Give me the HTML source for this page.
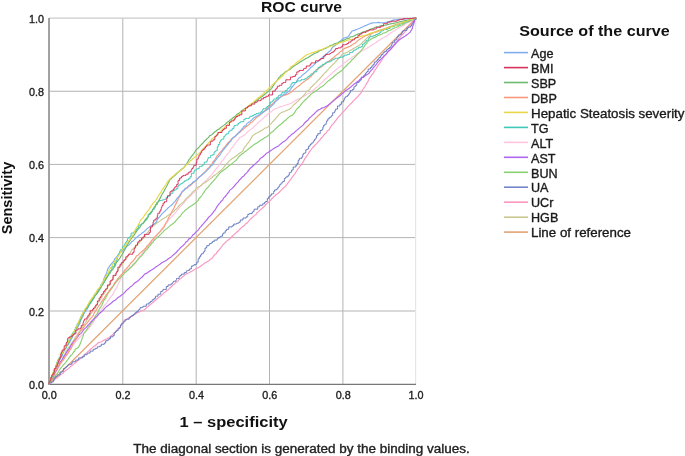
<!DOCTYPE html>
<html><head><meta charset="utf-8"><style>
html,body{margin:0;padding:0;background:#fff;}
svg{display:block;will-change:transform;font-family:"Liberation Sans",sans-serif;}
text{stroke-linejoin:round;}
.t{stroke:currentColor;stroke-width:0.35px;}
</style></head><body>
<svg width="685" height="456" viewBox="0 0 685 456">
<rect width="685" height="456" fill="#fff"/>
<line x1="122.80" y1="18.10" x2="122.80" y2="384.30" stroke="#b3b3b3" stroke-width="1.0"/>
<line x1="49.00" y1="311.00" x2="415.90" y2="311.00" stroke="#b3b3b3" stroke-width="1.0"/>
<line x1="196.20" y1="18.10" x2="196.20" y2="384.30" stroke="#b3b3b3" stroke-width="1.0"/>
<line x1="49.00" y1="237.60" x2="415.90" y2="237.60" stroke="#b3b3b3" stroke-width="1.0"/>
<line x1="269.50" y1="18.10" x2="269.50" y2="384.30" stroke="#b3b3b3" stroke-width="1.0"/>
<line x1="49.00" y1="164.40" x2="415.90" y2="164.40" stroke="#b3b3b3" stroke-width="1.0"/>
<line x1="342.90" y1="18.10" x2="342.90" y2="384.30" stroke="#b3b3b3" stroke-width="1.0"/>
<line x1="49.00" y1="91.25" x2="415.90" y2="91.25" stroke="#b3b3b3" stroke-width="1.0"/>
<line x1="49.00" y1="18.10" x2="415.60" y2="18.10" stroke="#cbcbcb" stroke-width="1.2"/>
<line x1="415.60" y1="18.10" x2="415.60" y2="384.30" stroke="#e6e6e6" stroke-width="1.2"/>
<line x1="48" y1="384.3" x2="416" y2="384.3" stroke="#777" stroke-width="1.3"/>
<line x1="49" y1="18.1" x2="49" y2="385" stroke="#9e9e9e" stroke-width="1.9"/>
<line x1="49.0" y1="384.3" x2="416.2" y2="18.0" stroke="#e2a474" stroke-width="1.25"/>
<polyline fill="none" stroke="#ffc4de" stroke-width="1.15" stroke-linejoin="round" points="49.0,384.3 50.3,382.2 51.1,380.7 51.9,379.1 52.7,377.3 53.8,376.2 55.0,373.8 55.9,372.0 56.8,370.4 58.0,368.6 59.1,366.9 59.9,365.5 61.0,363.4 61.9,361.8 63.2,360.0 63.9,358.4 64.9,356.6 66.4,355.1 67.4,353.5 68.0,351.9 69.5,349.8 70.8,348.5 71.8,346.6 73.0,345.1 74.4,343.6 75.4,342.1 76.8,340.3 78.3,339.1 79.6,337.5 81.1,335.8 82.6,334.9 83.6,333.4 85.1,332.1 86.4,330.4 88.2,329.4 89.2,327.7 90.7,326.0 92.0,324.2 92.9,322.6 94.1,321.1 94.9,319.1 96.4,317.8 97.3,316.2 98.3,314.3 99.2,312.6 100.7,310.8 101.5,309.4 102.9,307.9 103.8,305.9 105.2,304.8 106.6,303.0 107.6,301.5 108.8,299.9 109.8,298.1 111.0,296.5 112.2,295.2 113.5,293.4 114.0,291.4 115.4,289.9 116.2,288.3 117.6,286.1 118.0,284.4 118.9,282.7 120.0,280.7 120.5,278.9 121.4,277.2 122.4,275.2 123.3,273.6 124.6,272.1 125.5,270.3 127.2,269.2 128.8,268.4 131.1,267.4 132.4,266.3 133.7,265.3 135.2,263.6 136.2,261.9 137.3,260.0 138.3,258.6 139.4,256.9 140.6,255.3 142.1,253.7 143.2,252.3 144.6,250.9 145.4,249.2 146.9,247.6 148.3,246.1 149.6,244.4 151.0,242.8 151.9,241.4 153.1,240.1 154.6,238.5 155.7,236.6 157.0,235.2 158.1,233.6 159.5,232.2 160.6,230.6 161.8,228.6 163.0,227.0 164.4,225.7 165.6,224.1 167.0,222.4 168.0,220.8 169.1,219.5 170.4,218.0 172.0,216.6 173.4,214.8 174.8,213.4 176.0,212.0 177.3,210.4 178.5,208.9 179.6,207.4 181.1,206.0 182.8,204.0 183.9,202.8 185.0,201.4 186.5,199.6 187.9,198.4 189.4,196.8 190.9,195.7 192.0,194.1 193.6,192.7 195.3,191.4 196.3,189.8 197.8,188.9 199.2,187.2 200.8,185.7 202.5,184.2 203.6,182.9 205.0,181.3 206.6,180.1 207.8,178.5 209.1,177.3 210.7,175.9 212.0,174.3 213.0,172.8 214.4,171.1 215.6,169.7 216.8,167.9 218.1,166.7 219.2,164.8 220.4,163.4 221.4,161.7 223.1,159.9 224.3,158.6 225.2,156.9 226.3,155.2 228.0,153.5 229.2,152.1 230.3,150.5 231.0,148.8 232.6,147.1 233.5,145.7 234.8,143.8 236.0,142.6 237.3,141.0 238.8,139.3 239.6,137.5 241.4,136.7 243.2,135.7 244.8,134.7 246.3,133.3 247.7,131.7 249.3,130.5 250.7,129.4 252.3,128.5 254.0,126.6 255.4,125.4 256.7,124.2 258.2,122.2 259.9,121.2 261.5,119.9 262.6,118.9 264.1,117.4 266.0,116.0 267.2,114.7 268.9,113.2 270.4,112.2 272.3,110.9 273.4,109.9 275.2,108.8 277.1,108.2 278.9,107.4 280.5,106.6 283.1,106.0 284.6,105.3 286.7,104.9 288.3,104.3 290.4,103.6 292.0,102.8 293.9,101.5 295.5,100.6 297.5,99.6 299.3,98.8 301.1,97.9 302.6,96.5 304.4,95.9 306.2,94.9 307.8,93.8 309.5,93.2 311.3,91.7 312.6,90.4 314.5,89.2 315.7,88.0 317.5,86.6 318.9,85.3 320.3,83.9 321.6,82.7 323.2,81.4 324.3,79.8 326.3,78.3 327.7,77.1 329.2,75.6 330.5,74.5 332.2,73.0 333.6,71.7 335.3,70.3 336.5,69.2 338.1,67.9 339.9,66.8 341.3,65.6 342.7,64.4 344.3,62.8 346.2,61.7 347.6,60.5 349.4,59.3 350.9,58.3 352.4,56.9 354.1,56.0 355.9,54.9 357.4,53.5 359.2,52.3 360.9,51.4 362.4,50.4 364.3,49.8 366.5,48.6 367.9,47.4 369.6,46.7 371.1,45.7 372.7,44.5 374.7,43.2 376.4,42.5 377.8,41.0 379.8,40.1 381.1,39.0 383.0,37.9 384.8,36.9 386.6,36.0 388.1,34.8 389.9,33.7 391.2,32.6 393.1,31.7 394.8,30.4 396.5,29.5 398.2,28.2 400.0,27.2 401.7,26.3 403.4,25.6 405.1,24.3 406.8,23.4 408.4,22.2 410.3,21.4 412.1,20.3 413.7,19.4 415.8,18.4 416.2,18.0"/>
<polyline fill="none" stroke="#cac890" stroke-width="1.15" stroke-linejoin="round" points="49.0,384.3 50.0,382.6 50.7,380.7 51.8,379.0 52.7,377.0 53.8,375.7 54.6,373.8 55.6,372.0 56.2,370.4 57.3,368.6 58.3,366.5 59.2,365.0 60.1,363.0 61.1,361.0 62.3,359.6 63.0,358.0 63.8,356.0 65.1,354.4 65.4,351.9 66.6,350.9 67.6,348.9 68.9,347.2 70.0,345.8 71.1,344.0 72.1,342.4 73.2,340.9 74.8,338.9 75.2,337.2 76.7,335.8 77.9,333.9 78.7,332.5 79.8,330.8 81.0,329.1 82.3,327.5 83.4,325.5 84.4,324.0 85.6,322.5 86.5,320.6 87.6,318.9 88.9,317.2 90.0,315.7 90.9,313.7 92.0,312.4 92.8,310.8 94.4,308.9 95.3,307.6 96.5,305.4 97.4,303.8 98.5,301.8 99.7,300.4 100.7,298.8 101.9,297.1 102.7,295.5 104.1,293.7 105.1,292.1 105.9,290.6 106.9,288.8 107.9,287.0 108.8,285.0 110.2,283.5 111.1,281.7 112.2,279.8 113.0,278.3 114.0,276.5 115.2,274.9 116.2,273.4 117.4,271.6 118.3,269.7 119.1,268.0 120.1,266.2 121.7,265.0 122.9,262.9 123.9,261.3 125.2,259.8 126.3,258.6 127.5,256.9 128.5,254.9 129.9,253.6 130.7,251.7 131.7,250.0 133.5,248.5 134.6,246.9 136.2,245.9 137.7,244.4 138.8,243.2 140.4,241.5 141.9,239.7 143.2,238.6 144.5,237.3 145.7,235.2 146.7,233.9 148.0,232.0 148.9,230.7 150.4,229.0 151.2,227.7 152.4,225.9 154.8,224.8 156.2,223.5 158.0,222.3 159.5,221.4 160.9,220.4 162.5,219.0 164.4,217.9 166.1,217.0 167.6,215.6 169.2,214.5 171.1,213.4 172.7,212.3 174.0,211.2 175.4,209.7 177.2,208.1 178.4,206.5 179.7,205.1 181.1,203.9 182.6,202.8 184.1,201.2 185.4,199.6 186.7,198.0 188.2,197.1 189.7,195.3 191.3,193.9 192.3,192.4 193.7,191.1 195.6,189.7 196.5,188.3 198.3,186.9 200.0,186.2 201.7,185.0 203.0,183.5 205.1,182.8 206.3,181.5 208.1,180.4 209.8,179.1 211.4,178.0 213.0,176.5 214.2,175.5 215.9,174.4 217.8,173.1 219.2,171.8 220.9,170.3 222.2,169.1 223.5,167.7 224.7,166.2 226.0,164.4 227.3,163.1 228.7,161.6 230.0,160.3 231.9,158.8 233.5,157.7 235.3,156.6 236.4,155.7 238.3,154.2 239.9,153.0 241.6,152.0 243.0,150.7 243.7,148.6 245.0,146.9 246.1,145.6 247.2,143.8 248.5,142.5 249.8,140.6 250.8,138.8 251.8,137.1 253.0,135.4 254.3,134.5 256.3,133.3 257.9,132.5 259.7,131.4 261.4,130.5 263.4,129.6 264.7,128.2 266.6,127.7 268.4,126.7 269.7,124.9 271.2,123.6 272.5,121.9 273.8,120.5 275.2,119.1 276.3,117.6 277.9,116.2 278.9,114.5 280.2,113.4 281.9,112.2 284.1,111.7 285.8,110.8 287.8,110.0 289.5,109.3 291.1,108.0 292.3,106.5 293.7,104.8 295.4,103.5 296.9,102.1 298.5,100.8 299.5,99.5 301.2,97.9 302.5,96.9 304.0,95.1 305.1,93.8 306.3,91.7 307.9,90.6 309.6,89.4 310.6,87.7 312.2,86.3 313.4,85.0 314.9,83.6 316.3,82.3 317.9,80.4 319.4,79.2 320.6,77.6 321.8,76.3 323.1,75.0 324.6,73.2 325.9,72.0 327.4,70.4 328.6,69.0 329.8,67.3 331.6,66.0 332.7,64.5 334.3,63.5 335.4,61.8 336.7,60.5 338.4,58.7 339.8,57.4 341.0,55.9 342.2,54.3 344.0,53.3 345.7,53.1 347.6,51.9 349.3,51.1 351.2,50.0 353.0,48.7 354.5,47.9 356.3,47.0 357.7,46.4 359.6,45.0 361.4,43.8 362.8,41.9 364.1,41.1 365.5,39.4 366.7,38.4 368.6,36.7 370.0,35.4 371.3,34.0 372.9,32.7 374.9,31.8 376.5,31.3 378.4,30.4 380.5,29.9 382.3,29.4 384.0,28.8 386.1,28.0 388.0,27.3 389.5,26.7 391.6,26.3 393.7,25.4 395.5,25.1 397.6,24.3 399.4,23.6 401.2,23.1 403.1,22.4 404.8,21.5 406.6,21.0 409.0,20.6 410.6,19.6 412.7,19.3 414.3,18.7 416.2,18.0"/>
<polyline fill="none" stroke="#88d070" stroke-width="1.15" stroke-linejoin="round" points="49.0,384.3 50.2,382.9 51.4,381.2 52.6,379.3 53.7,377.8 55.1,376.1 55.9,374.8 57.5,373.3 58.7,371.2 59.6,369.8 60.9,367.9 62.1,366.7 63.2,365.1 64.8,363.5 66.0,362.1 67.1,360.4 68.3,359.0 69.5,357.1 70.9,355.5 72.1,354.3 73.3,352.5 74.6,351.0 75.3,349.0 77.3,348.2 78.5,347.2 79.5,345.4 80.3,343.6 81.0,341.6 81.7,340.2 82.1,338.2 83.1,336.2 83.6,334.0 84.4,332.6 85.9,331.1 87.0,329.4 88.0,327.4 89.3,326.1 90.4,324.1 91.5,322.5 92.8,321.0 93.8,319.5 94.7,317.9 95.5,315.6 96.8,314.4 97.8,312.5 98.7,310.7 99.3,308.8 100.6,307.1 101.8,305.2 102.4,303.8 103.3,301.7 104.1,300.0 105.5,298.4 106.3,296.5 107.3,294.9 108.0,293.0 109.3,291.7 110.5,289.9 112.0,288.1 112.6,286.8 114.1,285.0 115.2,283.3 116.5,281.7 117.8,280.1 119.0,278.9 120.4,277.6 121.9,275.9 123.4,274.5 124.5,273.0 126.0,271.7 127.6,270.5 129.1,269.2 130.6,267.5 132.0,266.2 133.0,264.6 134.7,263.2 136.0,261.8 137.4,260.2 138.7,258.7 140.1,257.1 141.4,256.1 142.7,254.4 144.0,252.7 145.1,251.2 146.5,249.9 147.7,248.4 148.9,246.6 150.4,245.4 151.6,243.3 153.1,242.1 154.1,240.5 155.5,239.1 157.1,237.5 158.8,236.3 159.8,235.0 161.3,233.9 162.9,232.0 164.0,230.6 165.6,229.5 167.1,228.4 168.8,226.9 170.5,225.3 171.8,224.5 173.5,223.2 175.1,221.8 176.3,220.2 177.3,219.1 178.8,217.3 180.5,216.0 181.5,214.2 182.8,212.7 184.2,211.3 185.5,209.9 187.2,208.9 189.0,207.3 190.6,206.3 191.9,205.5 193.7,204.2 195.6,203.0 196.7,201.8 198.3,200.3 199.0,198.5 200.4,197.3 201.8,195.5 203.0,193.7 204.1,192.2 205.0,190.5 206.5,188.7 207.8,187.5 209.1,185.8 210.3,184.6 211.7,182.7 212.9,181.6 214.2,179.9 215.9,178.3 216.8,176.6 218.0,175.5 219.4,173.6 220.7,172.4 222.5,171.0 224.1,169.8 225.6,168.7 227.2,167.3 228.7,166.2 230.0,164.9 231.9,163.8 233.4,162.4 235.0,161.1 236.4,160.0 237.8,158.2 239.0,156.5 240.5,155.3 242.0,154.0 243.5,153.0 245.3,151.4 246.8,150.4 248.1,149.3 249.8,147.9 251.3,146.7 253.0,145.4 254.4,144.2 256.3,143.4 257.9,142.3 259.6,140.9 261.4,139.8 263.0,139.0 264.6,137.8 266.7,136.7 268.0,135.7 269.5,134.3 271.1,132.6 272.8,131.5 273.9,130.4 275.5,128.8 277.0,127.5 278.4,126.1 279.9,125.1 281.5,123.7 283.1,122.3 284.4,121.0 286.2,119.7 287.5,118.3 289.0,117.1 290.6,115.9 292.4,115.2 293.7,113.8 294.9,112.1 295.7,110.5 297.2,108.6 298.6,107.5 300.1,105.8 301.0,104.6 302.3,102.9 303.7,101.4 305.0,100.0 306.8,98.7 308.1,97.1 309.6,95.8 311.0,94.1 312.5,93.0 314.2,92.1 315.6,90.9 317.6,89.8 319.1,88.5 320.5,87.3 322.3,86.5 324.0,85.1 325.2,83.9 326.9,82.2 328.1,81.1 329.8,80.1 331.4,78.4 332.9,77.5 334.3,76.0 336.0,74.8 337.6,73.3 339.3,72.2 341.0,71.1 342.6,69.7 343.8,68.2 345.1,66.9 346.6,65.7 347.9,64.0 349.6,62.6 350.7,61.5 352.3,59.4 353.6,58.6 355.1,56.9 356.6,55.4 357.7,54.1 359.1,52.8 360.6,51.1 361.9,49.5 362.9,48.3 364.2,46.6 365.3,44.8 366.6,43.3 367.8,41.7 369.2,40.4 370.8,39.2 372.7,38.1 374.1,37.6 376.4,36.6 378.1,35.6 379.6,34.9 381.4,34.2 383.3,33.2 385.6,32.6 387.0,31.7 388.7,30.6 390.8,30.0 392.4,29.1 394.4,27.9 396.1,27.5 398.0,26.5 399.9,25.5 401.8,25.0 403.7,24.1 405.2,23.0 406.9,22.1 408.7,21.6 410.9,20.5 412.6,19.5 414.2,18.7 415.9,18.1 416.2,18.0"/>
<polyline fill="none" stroke="#fb96c0" stroke-width="1.15" stroke-linejoin="round" points="49.0,384.3 50.6,383.0 52.0,381.6 53.6,380.4 55.3,379.1 56.8,378.1 58.5,376.9 59.9,375.4 61.1,374.2 63.2,373.2 64.1,371.6 66.0,370.3 67.7,369.2 69.1,367.9 70.5,366.5 72.1,365.5 73.6,364.1 75.5,362.8 76.9,361.3 78.3,360.2 80.1,358.8 81.4,357.4 82.7,356.3 84.2,354.9 85.7,353.6 87.6,351.9 89.0,350.8 90.3,349.5 91.9,348.1 93.2,346.8 94.9,345.8 96.6,344.5 97.9,342.9 99.9,342.3 101.7,341.7 103.4,340.6 104.9,339.8 107.0,338.7 108.8,337.7 110.1,336.8 111.8,335.3 113.3,333.9 114.7,332.8 116.1,331.2 117.5,329.7 118.6,328.0 120.4,326.9 121.2,325.0 122.5,323.2 123.8,321.6 124.7,319.8 126.7,319.2 128.5,318.0 130.0,317.1 131.6,316.4 133.7,315.2 134.9,314.1 136.9,313.0 138.6,312.2 140.3,311.4 142.5,310.5 144.1,310.0 145.5,308.8 147.0,307.4 148.6,306.0 150.2,304.8 151.8,303.2 153.6,302.2 154.6,300.8 156.4,299.5 157.8,298.2 159.4,296.9 160.9,295.7 162.4,294.6 163.9,292.9 165.4,291.8 166.9,290.5 168.8,289.2 170.0,287.8 171.7,286.5 172.8,285.0 174.6,284.0 175.8,282.5 177.6,281.5 178.8,279.9 180.7,278.6 182.0,277.3 183.4,276.1 185.2,274.6 186.7,273.8 188.5,272.9 190.2,272.0 191.9,271.2 193.8,269.9 195.5,269.0 197.3,268.1 199.1,267.3 200.9,266.0 202.6,264.8 203.9,263.6 205.8,262.4 207.2,261.7 209.3,260.6 210.4,259.2 212.4,258.0 213.3,256.4 214.6,254.8 216.5,253.5 217.2,251.7 218.8,250.3 220.1,248.7 221.2,247.3 222.4,245.5 223.6,244.1 225.1,242.7 226.6,241.4 227.9,240.2 229.9,238.7 231.1,237.5 232.6,236.0 234.0,234.6 235.3,233.4 237.2,231.8 238.5,230.7 239.9,229.2 241.4,227.6 242.9,226.5 244.7,225.3 245.7,223.8 247.5,222.7 248.7,221.0 249.9,219.6 251.5,218.2 253.3,216.6 254.4,215.6 256.0,214.4 257.1,212.7 258.8,211.4 260.2,209.9 261.9,208.5 263.1,207.5 264.9,206.0 265.9,204.4 267.4,203.0 268.9,202.0 270.5,200.3 271.7,198.8 273.5,197.3 274.8,196.0 276.0,194.7 277.8,193.5 279.6,192.0 280.4,190.9 282.1,189.3 283.1,188.2 285.0,186.7 286.2,185.3 287.4,183.6 288.7,182.2 289.8,180.3 291.2,178.8 292.2,177.1 293.6,175.4 294.7,174.2 295.8,172.2 296.8,170.7 297.9,168.8 299.2,167.3 300.5,165.5 301.8,164.0 302.6,162.6 303.8,160.9 304.7,158.8 305.9,157.2 307.0,156.0 308.2,154.0 309.1,152.4 310.4,150.6 311.6,149.0 312.7,147.5 314.2,146.2 315.4,144.6 316.9,143.4 318.3,141.7 319.6,140.5 320.6,138.8 322.1,137.5 323.4,135.7 324.6,134.2 326.2,133.0 327.2,131.1 329.3,129.8 329.9,128.1 330.7,126.7 332.4,124.7 333.8,123.2 334.7,121.8 336.1,120.1 337.3,118.4 338.3,117.2 340.0,115.5 341.2,114.0 342.5,112.4 344.2,111.0 345.3,109.6 346.4,108.5 347.9,106.6 349.4,105.1 350.7,103.7 352.2,102.4 353.2,101.1 354.9,99.3 356.3,98.0 357.9,96.4 359.1,95.0 360.4,93.6 361.5,92.1 362.4,90.0 363.6,88.5 364.6,87.0 365.6,85.3 366.6,83.4 367.8,81.8 368.6,80.0 369.5,78.2 370.7,76.7 371.6,74.9 373.1,73.5 373.9,71.6 375.1,69.9 376.3,68.3 377.4,66.5 378.4,64.9 379.6,63.4 380.7,61.7 382.0,59.8 382.9,58.3 384.1,56.5 385.5,55.1 386.5,53.9 387.8,52.0 389.1,50.5 390.6,48.8 391.8,47.4 392.9,46.1 394.4,44.3 395.5,42.8 396.9,41.2 398.4,39.3 399.1,38.2 400.4,36.6 401.9,35.2 403.3,33.8 404.7,32.2 405.9,30.7 407.2,28.9 408.2,27.2 409.7,25.5 411.0,24.2 412.3,22.8 413.4,21.3 414.4,19.8 416.1,17.9 416.2,18.0"/>
<polyline fill="none" stroke="#6478c0" stroke-width="1.0" stroke-linejoin="round" points="49.0,384.3 49.0,382.9 50.5,382.9 51.5,382.9 51.5,382.0 53.3,382.0 53.3,380.3 54.2,380.3 54.2,379.4 54.2,378.0 55.7,378.0 55.7,376.4 57.3,376.4 57.3,374.9 58.8,374.9 60.1,374.9 60.1,373.6 60.1,372.0 61.7,372.0 62.4,372.0 62.4,371.3 63.4,371.3 63.4,370.3 63.4,368.6 65.1,368.6 65.1,367.4 66.3,367.4 66.3,366.5 67.3,366.5 67.3,365.6 68.1,365.6 68.1,364.7 69.1,364.7 69.8,364.7 69.8,364.3 71.5,364.3 71.5,363.3 72.3,363.3 72.3,362.9 72.3,361.8 74.0,361.8 74.8,361.8 74.8,361.4 75.7,361.4 75.7,360.9 75.7,360.1 77.0,360.1 77.9,360.1 77.9,359.6 78.6,359.6 78.6,359.1 78.6,357.9 80.7,357.9 82.7,357.9 82.7,356.7 84.4,356.7 84.4,355.7 84.4,354.7 86.1,354.7 87.0,354.7 87.0,354.1 87.0,353.7 87.7,353.7 87.7,353.0 88.8,353.0 90.2,353.0 90.2,352.2 90.2,351.1 91.9,351.1 93.2,351.1 93.2,350.2 93.2,349.4 94.4,349.4 95.2,349.4 95.2,348.9 95.2,348.3 96.1,348.3 97.4,348.3 97.4,347.5 97.4,346.8 98.5,346.8 99.7,346.8 99.7,346.0 101.3,346.0 101.3,345.0 101.3,344.3 102.3,344.3 104.3,344.3 104.3,343.0 105.7,343.0 105.7,342.0 105.7,340.7 107.7,340.7 107.7,339.8 109.0,339.8 109.0,338.7 110.5,338.7 110.5,336.8 112.0,336.8 112.9,336.8 112.9,335.7 114.2,335.7 114.2,334.2 114.2,332.6 115.5,332.6 115.5,331.7 116.3,331.7 116.3,330.6 117.2,330.6 118.1,330.6 118.1,329.5 118.1,328.7 118.8,328.7 119.6,328.7 119.6,327.7 120.4,327.7 120.4,326.7 120.4,325.0 121.8,325.0 121.8,323.2 123.3,323.2 123.8,323.2 123.8,322.5 123.8,321.3 125.2,321.3 125.2,320.0 126.6,320.0 126.6,319.2 127.6,319.2 129.2,319.2 129.2,317.8 130.3,317.8 130.3,316.8 131.0,316.8 131.0,316.2 131.7,316.2 131.7,315.6 133.2,315.6 133.2,314.3 135.0,314.3 135.0,312.8 136.4,312.8 136.4,311.7 138.2,311.7 138.2,310.1 139.1,310.1 139.1,309.4 140.1,309.4 140.1,308.8 140.1,307.7 142.1,307.7 142.1,307.1 143.3,307.1 143.3,306.2 145.0,306.2 146.3,306.2 146.3,305.0 146.3,304.0 147.4,304.0 148.9,304.0 148.9,302.7 150.4,302.7 150.4,301.4 152.2,301.4 152.2,299.8 154.0,299.8 154.0,298.3 155.5,298.3 155.5,297.1 155.5,296.2 156.5,296.2 158.0,296.2 158.0,295.0 158.0,294.2 158.9,294.2 160.7,294.2 160.7,292.7 160.7,291.5 162.2,291.5 162.2,290.8 163.0,290.8 163.0,289.4 164.7,289.4 166.3,289.4 166.3,288.1 166.3,286.5 168.1,286.5 168.1,284.9 170.0,284.9 171.2,284.9 171.2,283.9 172.0,283.9 172.0,283.2 172.8,283.2 172.8,282.6 172.8,282.0 173.5,282.0 173.5,281.3 174.3,281.3 175.9,281.3 175.9,280.0 176.5,280.0 176.5,279.5 176.5,278.5 177.7,278.5 179.2,278.5 179.2,277.3 179.2,276.5 180.1,276.5 180.1,275.4 181.5,275.4 181.5,274.1 182.9,274.1 184.3,274.1 184.3,273.1 184.3,272.6 185.0,272.6 186.4,272.6 186.4,271.4 186.4,270.8 187.2,270.8 187.9,270.8 187.9,270.3 189.6,270.3 189.6,268.9 191.4,268.9 191.4,267.6 191.4,266.1 193.2,266.1 193.2,265.5 194.0,265.5 194.0,264.7 195.1,264.7 196.0,264.7 196.0,264.0 196.8,264.0 196.8,262.9 196.8,262.1 197.3,262.1 198.2,262.1 198.2,260.6 198.2,258.8 199.3,258.8 199.3,256.8 200.6,256.8 200.6,254.9 201.7,254.9 201.7,253.6 202.6,253.6 203.3,253.6 203.3,252.4 204.0,252.4 204.0,251.2 205.0,251.2 205.0,249.6 205.0,248.0 206.0,248.0 206.7,248.0 206.7,246.8 206.7,245.7 208.2,245.7 209.0,245.7 209.0,245.1 209.0,244.6 209.8,244.6 209.8,243.4 211.5,243.4 211.5,242.7 212.5,242.7 212.5,241.4 214.3,241.4 214.3,240.1 216.2,240.1 217.2,240.1 217.2,239.4 217.2,238.7 218.2,238.7 218.2,237.7 219.7,237.7 219.7,236.9 220.7,236.9 220.7,236.2 221.3,236.2 222.5,236.2 222.5,235.0 222.5,234.2 223.2,234.2 223.2,233.0 224.4,233.0 225.2,233.0 225.2,232.2 225.2,230.8 226.5,230.8 226.5,229.3 228.0,229.3 228.7,229.3 228.7,228.5 228.7,226.9 230.3,226.9 232.0,226.9 232.0,225.9 233.7,225.9 233.7,225.0 233.7,224.1 235.4,224.1 236.5,224.1 236.5,223.5 237.3,223.5 237.3,223.1 239.0,223.1 239.0,222.2 240.3,222.2 240.3,221.4 240.3,220.0 242.0,220.0 243.0,220.0 243.0,219.3 243.0,218.0 244.6,218.0 246.2,218.0 246.2,216.8 247.7,216.8 247.7,215.5 247.7,214.4 249.2,214.4 249.2,213.6 250.2,213.6 252.1,213.6 252.1,212.2 253.1,212.2 253.1,211.3 254.1,211.3 254.1,210.5 254.1,209.2 255.9,209.2 257.7,209.2 257.7,207.7 257.7,206.8 258.9,206.8 259.6,206.8 259.6,206.2 259.6,205.2 261.0,205.2 262.7,205.2 262.7,203.8 264.6,203.8 264.6,202.3 265.6,202.3 265.6,201.5 267.3,201.5 267.3,200.2 267.3,198.6 268.6,198.6 268.6,196.9 270.1,196.9 270.1,195.2 271.5,195.2 271.5,193.8 272.7,193.8 273.7,193.8 273.7,192.6 273.7,191.4 274.6,191.4 274.6,189.9 275.9,189.9 276.6,189.9 276.6,189.0 277.8,189.0 277.8,187.6 278.4,187.6 278.4,186.9 279.2,186.9 279.2,185.9 279.8,185.9 279.8,185.2 279.8,184.5 280.4,184.5 281.0,184.5 281.0,183.8 281.0,183.1 281.6,183.1 282.3,183.1 282.3,182.2 282.9,182.2 282.9,181.4 284.4,181.4 284.4,179.7 284.4,178.4 285.5,178.4 285.5,177.7 286.1,177.7 286.1,176.8 286.8,176.8 288.1,176.8 288.1,175.2 289.3,175.2 289.3,173.7 289.3,172.7 290.2,172.7 290.7,172.7 290.7,172.1 291.6,172.1 291.6,171.0 291.6,170.0 292.5,170.0 293.2,170.0 293.2,168.9 293.2,167.0 294.6,167.0 295.9,167.0 295.9,165.2 297.1,165.2 297.1,163.5 298.2,163.5 298.2,162.0 298.2,160.2 299.4,160.2 299.4,158.4 300.8,158.4 301.8,158.4 301.8,157.0 302.7,157.0 302.7,155.7 302.7,154.7 303.4,154.7 303.4,153.4 304.4,153.4 305.1,153.4 305.1,152.4 305.8,152.4 305.8,151.5 305.8,149.8 307.1,149.8 307.1,149.0 307.8,149.0 308.6,149.0 308.6,148.0 308.6,146.2 310.0,146.2 310.0,144.6 311.2,144.6 311.2,143.2 312.3,143.2 312.8,143.2 312.8,142.4 313.4,142.4 313.4,141.7 313.4,140.9 314.0,140.9 314.6,140.9 314.6,140.1 314.6,139.2 315.3,139.2 315.9,139.2 315.9,138.4 315.9,137.7 316.5,137.7 316.5,135.7 317.8,135.7 317.8,133.7 319.2,133.7 320.2,133.7 320.2,132.1 320.2,130.4 321.3,130.4 322.1,130.4 322.1,129.3 322.9,129.3 322.9,128.1 322.9,126.9 323.7,126.9 323.7,125.3 324.8,125.3 324.8,124.3 325.5,124.3 326.2,124.3 326.2,123.2 326.2,122.4 326.7,122.4 326.7,120.8 327.8,120.8 327.8,118.9 329.2,118.9 329.2,117.4 330.3,117.4 330.9,117.4 330.9,116.5 331.6,116.5 331.6,115.6 332.7,115.6 332.7,114.1 332.7,112.7 333.7,112.7 334.6,112.7 334.6,111.6 335.1,111.6 335.1,110.9 335.1,110.1 335.7,110.1 335.7,109.1 336.4,109.1 337.5,109.1 337.5,107.6 337.5,106.0 338.7,106.0 339.9,106.0 339.9,104.3 341.4,104.3 341.4,102.7 341.4,101.8 342.2,101.8 343.6,101.8 343.6,100.2 344.3,100.2 344.3,99.3 344.3,98.3 345.1,98.3 345.1,97.3 345.9,97.3 345.9,96.4 346.7,96.4 347.6,96.4 347.6,95.2 348.8,95.2 348.8,93.7 349.5,93.7 349.5,92.9 350.3,92.9 350.3,92.0 350.3,90.5 351.4,90.5 352.4,90.5 352.4,89.4 353.9,89.4 353.9,87.5 353.9,86.8 354.5,86.8 355.1,86.8 355.1,86.0 356.1,86.0 356.1,84.8 356.8,84.8 356.8,84.0 356.8,82.4 358.1,82.4 359.1,82.4 359.1,81.2 360.1,81.2 360.1,79.9 361.3,79.9 361.3,78.5 361.3,77.0 362.5,77.0 363.5,77.0 363.5,75.8 364.3,75.8 364.3,74.8 365.5,74.8 365.5,73.3 366.2,73.3 366.2,72.5 367.0,72.5 367.0,71.5 368.2,71.5 368.2,70.1 368.2,69.0 369.1,69.0 370.4,69.0 370.4,67.5 371.8,67.5 371.8,65.9 373.1,65.9 373.1,64.4 374.3,64.4 374.3,63.0 374.3,62.0 375.2,62.0 376.2,62.0 376.2,60.8 377.4,60.8 377.4,59.3 378.9,59.3 378.9,57.6 380.4,57.6 380.4,55.9 381.6,55.9 381.6,54.5 383.0,54.5 383.0,53.0 383.6,53.0 383.6,52.4 384.7,52.4 384.7,51.4 386.5,51.4 386.5,49.8 388.0,49.8 388.0,48.5 389.5,48.5 389.5,47.2 391.0,47.2 391.0,45.5 391.8,45.5 391.8,44.5 391.8,43.8 392.4,43.8 392.4,42.4 393.6,42.4 394.6,42.4 394.6,41.2 394.6,40.1 395.6,40.1 396.2,40.1 396.2,39.4 397.0,39.4 397.0,38.5 397.0,36.9 398.3,36.9 398.3,35.1 399.8,35.1 400.4,35.1 400.4,34.4 401.6,34.4 401.6,33.1 402.4,33.1 402.4,32.2 402.4,31.1 403.9,31.1 403.9,30.4 404.9,30.4 406.8,30.4 406.8,29.1 406.8,28.3 408.0,28.3 408.0,27.2 409.5,27.2 410.4,27.2 410.4,26.0 411.6,26.0 411.6,24.4 412.7,24.4 412.7,22.9 413.5,22.9 413.5,21.8 413.5,21.1 414.0,21.1 414.5,21.1 414.5,20.4 414.5,19.4 415.2,19.4 416.2,19.4 416.2,18.0"/>
<polyline fill="none" stroke="#b064f0" stroke-width="1.15" stroke-linejoin="round" points="49.0,384.3 49.9,382.7 51.0,380.9 51.7,378.9 52.8,377.4 53.6,375.3 54.2,373.9 55.2,371.9 56.5,370.6 57.3,368.3 58.3,366.6 59.3,364.9 59.9,362.6 61.1,361.1 62.3,359.3 63.2,357.7 64.0,356.4 65.3,354.4 66.4,352.6 67.3,351.0 68.8,349.5 69.7,347.9 70.7,346.0 71.5,344.5 72.9,342.7 74.3,340.8 75.5,339.4 76.5,338.0 78.2,336.3 79.1,334.8 80.8,333.6 81.9,332.3 83.3,330.2 84.5,328.9 86.3,327.4 87.4,326.0 88.6,324.7 90.0,323.1 91.2,321.6 92.6,320.1 94.1,318.8 95.6,317.4 97.3,315.9 98.2,314.8 99.7,313.2 101.5,311.8 102.7,310.6 104.2,309.0 105.4,307.6 106.9,306.2 108.5,305.2 110.4,303.8 111.8,302.5 113.2,301.3 115.1,300.2 116.6,298.9 117.6,297.8 119.8,296.5 121.3,295.3 123.2,293.9 124.5,292.7 125.8,291.2 127.2,289.7 128.8,288.5 130.0,287.1 131.5,286.2 133.2,284.6 134.5,283.1 136.4,281.9 137.8,281.0 139.6,279.4 140.8,278.0 142.2,277.0 143.6,275.4 145.0,273.9 147.0,273.1 148.7,271.8 150.2,270.7 151.9,269.8 153.9,268.6 155.2,267.3 157.0,266.3 158.3,265.4 160.3,264.0 161.8,262.8 163.7,261.7 165.3,260.9 167.2,259.7 168.6,258.5 170.4,257.6 171.8,256.4 173.4,254.8 174.7,253.8 176.5,252.3 177.6,250.7 179.1,249.4 180.2,248.0 181.7,246.6 183.4,245.2 184.8,243.8 185.9,242.1 187.7,240.9 188.6,239.1 190.4,238.3 191.8,236.5 193.1,234.7 194.3,233.9 196.1,231.9 197.5,230.9 198.7,229.3 199.9,227.6 201.2,226.4 202.3,224.8 203.7,223.4 205.3,221.3 206.5,220.4 207.6,218.6 209.0,217.0 210.3,215.9 211.7,214.4 213.0,212.7 214.0,211.0 215.5,209.6 216.4,207.6 217.4,206.1 218.8,204.2 220.0,202.9 221.2,201.2 222.8,199.9 223.5,198.1 225.1,196.8 226.3,195.1 227.5,193.5 228.7,192.2 229.6,190.4 231.7,188.9 232.6,187.9 234.3,186.1 235.4,184.6 236.8,183.1 238.1,181.8 239.5,179.9 240.8,178.8 242.2,176.9 243.9,175.9 245.0,174.3 246.5,173.1 247.7,171.5 249.0,170.0 250.3,168.2 251.9,167.0 253.3,165.5 254.9,164.2 256.4,162.8 257.8,161.5 259.1,160.3 260.2,158.6 262.3,157.2 263.4,156.2 265.2,154.7 266.5,153.2 268.1,152.5 269.9,151.2 271.6,150.1 273.2,148.9 274.7,148.0 276.3,147.0 278.5,145.9 280.2,144.4 281.5,143.3 283.0,142.1 284.5,141.2 286.2,139.9 287.7,138.4 288.8,136.9 290.5,135.7 291.9,134.2 293.5,133.3 295.2,131.7 296.5,130.6 298.0,129.2 299.6,127.9 301.2,126.6 303.1,125.1 304.1,123.6 305.1,122.5 307.1,120.7 308.2,119.7 309.7,117.7 311.2,116.6 312.6,115.1 314.0,114.0 315.3,112.6 316.8,111.2 318.3,109.9 320.2,109.3 322.0,108.1 324.1,107.5 325.9,106.5 327.6,105.6 328.9,104.4 330.6,103.2 332.3,101.6 333.7,100.5 335.2,99.4 336.8,98.0 338.5,96.8 340.1,95.8 341.4,94.1 343.0,93.2 344.6,91.6 345.9,90.4 347.5,89.4 349.3,88.2 350.8,87.0 352.4,85.6 353.9,84.3 355.7,83.1 357.2,81.7 358.7,80.8 360.2,79.2 361.7,78.0 363.5,77.2 365.2,75.9 366.7,74.7 368.8,73.6 369.7,72.1 371.0,70.5 372.3,69.3 373.4,67.6 374.8,66.1 376.1,64.6 377.4,62.7 378.6,61.4 380.0,60.0 381.7,58.4 383.0,57.1 384.2,55.5 385.8,54.4 387.1,52.8 388.5,51.2 390.0,50.1 391.6,48.4 392.5,47.1 393.9,45.5 395.3,44.0 396.6,42.6 397.7,41.2 399.1,40.0 401.2,38.6 402.9,37.5 404.5,36.6 406.2,35.3 407.8,34.1 409.3,32.9 410.4,31.8 411.7,29.6 412.5,28.0 412.8,26.0 413.5,24.5 414.2,22.4 414.6,20.5 415.5,18.8 416.2,18.0"/>
<polyline fill="none" stroke="#f79a7c" stroke-width="1.15" stroke-linejoin="round" points="49.0,384.3 50.0,382.3 50.8,381.0 52.0,379.2 52.5,377.1 53.4,375.6 54.2,373.4 55.0,371.8 56.2,369.9 57.0,368.2 58.2,366.2 59.1,364.8 60.4,363.4 61.8,361.7 63.1,360.3 64.2,358.6 65.2,357.0 66.5,355.2 67.8,353.6 68.7,352.1 69.9,350.3 70.8,348.9 71.9,346.7 72.4,345.0 73.5,343.0 74.3,341.3 75.5,340.1 76.8,337.9 77.4,336.1 78.2,334.6 79.4,332.7 80.7,331.2 82.0,329.6 83.2,328.1 84.3,326.6 85.4,324.8 86.8,323.3 88.1,321.7 89.1,320.2 90.6,318.6 92.0,317.2 93.2,315.7 93.8,314.1 94.7,312.0 96.0,310.4 97.0,308.5 98.0,307.0 99.4,305.2 100.4,303.7 101.5,301.9 102.5,300.1 103.7,298.7 104.7,297.1 105.9,295.2 107.2,293.6 108.6,291.9 109.3,290.4 110.6,289.0 111.7,287.2 113.2,285.8 114.0,284.0 115.0,282.4 116.6,280.5 117.4,279.2 118.5,277.9 120.0,276.0 121.5,274.8 122.9,272.8 123.8,271.6 125.0,269.9 126.5,268.6 128.1,266.5 129.3,265.5 130.3,263.7 131.6,262.2 133.1,261.0 134.5,259.2 135.5,257.9 136.4,255.9 138.3,255.0 139.6,253.4 141.1,252.1 142.8,250.7 144.4,249.5 145.8,248.0 146.7,246.5 148.3,244.8 149.7,243.5 150.6,241.8 151.9,240.1 153.3,238.9 154.4,237.1 155.8,235.8 157.5,234.2 158.7,232.9 160.2,231.8 161.5,229.8 162.9,228.5 164.2,226.8 164.8,225.2 165.8,223.3 166.7,221.8 167.6,220.2 168.6,217.7 169.6,216.0 170.4,214.9 171.5,212.6 172.1,211.0 173.4,209.1 174.2,207.5 174.9,205.6 176.1,203.6 176.6,202.2 177.8,200.1 178.4,198.4 179.6,196.6 180.6,195.1 181.4,193.2 182.5,191.7 184.0,190.4 185.7,189.1 187.3,187.8 188.6,186.6 190.5,185.6 191.6,184.2 193.3,182.8 194.9,181.6 196.4,180.3 197.9,178.7 199.1,177.3 200.5,176.1 201.9,174.6 203.4,173.2 204.8,171.8 206.2,170.3 207.7,168.5 209.0,167.6 210.3,165.8 211.7,164.2 212.8,162.2 213.8,160.9 215.0,159.5 216.0,157.7 216.8,156.2 218.6,154.5 219.5,152.9 221.1,151.5 222.6,149.8 223.3,148.4 225.1,146.8 226.2,145.2 227.3,143.7 228.5,142.3 230.2,140.9 231.3,139.2 232.7,137.8 234.6,137.2 235.8,135.4 237.7,134.0 239.1,132.8 240.5,131.7 242.0,130.0 243.7,128.9 245.0,127.5 246.7,126.2 248.2,125.2 249.7,123.9 251.0,122.5 252.8,121.4 254.2,119.9 255.7,118.3 257.1,117.1 258.9,115.7 260.3,114.7 262.0,113.4 263.5,111.7 264.7,110.6 266.5,109.3 267.7,107.9 269.0,106.8 270.5,105.3 272.5,104.1 273.5,102.7 275.2,101.3 277.0,100.0 278.0,98.5 279.9,97.4 281.4,96.2 283.3,95.7 285.4,94.9 287.2,94.4 288.7,93.4 290.9,92.4 292.2,91.4 293.6,89.9 295.1,88.8 296.8,87.4 298.0,86.4 300.2,84.9 301.8,83.4 303.2,82.3 305.2,80.9 306.2,80.0 308.1,79.1 309.6,77.7 311.3,76.1 312.2,74.9 313.2,73.0 314.8,71.6 315.8,70.2 318.0,69.0 319.5,67.9 320.9,67.0 322.8,65.8 324.2,64.4 325.9,63.3 327.5,62.0 329.4,60.8 330.7,59.8 332.3,58.5 333.8,57.5 335.4,55.9 337.2,54.5 338.7,53.5 339.8,52.1 341.5,51.1 343.2,49.5 344.6,48.4 346.6,47.6 348.4,46.9 350.3,46.2 351.9,45.0 353.5,43.9 355.3,42.9 357.0,41.3 358.2,40.4 360.2,39.0 361.9,38.0 363.3,36.9 365.0,35.9 367.0,35.3 368.9,34.8 370.4,33.9 372.8,33.0 374.5,32.4 376.1,32.1 378.5,31.1 380.1,30.7 382.2,29.8 384.0,29.1 385.7,28.5 387.6,27.8 389.5,26.9 391.3,26.4 393.4,25.8 395.1,25.1 396.9,24.2 398.9,23.9 401.0,23.2 403.0,22.6 404.6,22.0 406.5,21.3 408.6,20.6 410.1,19.9 412.2,19.3 414.1,18.5 415.8,18.1 416.2,18.0"/>
<polyline fill="none" stroke="#7eaef0" stroke-width="1.15" stroke-linejoin="round" points="49.0,384.3 49.9,382.5 50.4,381.0 51.3,378.7 52.1,376.8 52.8,375.0 53.5,373.1 54.0,371.4 55.2,369.3 55.7,367.4 56.9,365.8 57.8,363.9 58.7,362.2 59.3,360.6 60.3,358.6 61.4,356.9 62.4,355.6 62.9,353.3 63.6,351.3 64.9,349.8 65.9,348.2 66.7,346.0 68.2,344.7 69.2,342.9 70.2,341.1 71.1,339.5 72.1,338.0 73.0,335.4 73.8,334.2 74.9,332.5 75.6,330.5 76.6,328.8 77.8,327.3 78.5,325.6 79.8,323.6 80.3,321.7 80.9,319.9 81.8,318.3 82.9,316.5 83.5,314.7 84.3,312.7 85.7,311.2 86.7,309.7 87.8,307.5 88.6,305.8 89.8,304.1 90.7,302.4 91.6,301.4 93.2,298.8 94.2,297.4 94.8,295.8 96.3,294.3 97.5,292.3 98.3,290.8 99.5,289.1 100.4,287.5 101.2,285.3 102.5,283.8 103.1,281.9 103.5,279.9 104.3,278.0 105.0,276.2 105.9,274.5 106.8,272.4 107.2,270.8 108.0,268.3 109.0,267.1 110.1,265.4 111.2,264.1 112.7,262.4 114.0,260.9 114.8,258.9 116.0,257.7 117.4,256.2 118.8,254.4 119.8,252.9 121.9,251.4 122.7,250.1 124.6,248.8 125.5,247.2 127.1,246.0 128.9,245.1 130.4,243.4 131.6,241.8 133.2,240.9 134.8,239.2 136.2,237.9 137.6,236.6 139.2,235.3 140.9,234.1 142.2,233.0 144.0,231.8 145.2,230.6 147.0,228.9 148.5,227.6 149.9,226.6 152.0,225.3 153.5,224.3 155.3,223.2 156.4,221.9 157.2,219.9 158.3,218.2 159.8,216.7 161.0,215.1 162.3,213.7 163.7,212.2 165.0,211.0 166.8,209.4 168.1,207.8 169.4,206.9 170.9,205.6 172.5,204.2 173.9,202.5 175.2,201.3 176.3,199.6 177.5,197.9 179.1,196.4 179.9,194.9 181.3,193.1 182.6,191.0 183.8,190.4 185.2,188.3 186.9,187.9 188.4,186.0 189.7,184.9 191.4,183.9 193.1,182.0 194.5,181.2 196.5,179.9 197.3,178.6 199.2,177.0 200.8,176.0 202.2,174.8 203.7,173.6 205.4,171.9 206.6,170.9 208.1,169.2 209.6,167.9 210.8,165.9 212.1,165.3 213.4,163.5 214.5,161.6 215.7,160.1 216.8,158.6 218.0,157.0 219.5,155.6 220.6,154.0 221.8,151.8 222.7,150.6 224.1,149.2 225.3,147.5 226.7,145.8 227.9,144.4 229.3,142.7 230.5,141.4 231.7,139.6 232.9,138.0 234.3,136.7 236.3,135.5 237.2,134.0 238.7,132.7 240.3,130.8 241.8,129.4 242.8,128.0 243.9,126.4 246.0,125.6 246.8,123.6 248.7,122.2 249.9,121.4 251.6,120.1 253.1,118.4 254.6,117.3 256.5,116.3 258.2,115.4 259.7,114.5 261.4,113.2 263.4,112.3 264.6,111.4 266.3,110.2 268.3,109.0 269.7,107.8 271.2,106.2 272.8,104.9 273.8,103.8 275.2,101.8 276.7,100.6 278.1,99.6 279.3,97.9 281.2,96.7 282.6,95.3 284.3,94.3 286.2,93.4 287.3,92.2 289.4,90.9 290.4,89.5 291.4,88.1 292.8,86.1 294.1,84.6 295.0,83.1 296.5,81.6 297.6,79.6 298.6,78.2 300.8,76.9 301.9,75.6 303.7,73.9 305.3,73.1 306.6,71.6 308.4,70.2 309.6,69.0 310.7,67.6 312.6,66.2 313.9,64.9 315.3,63.4 316.9,62.1 318.6,61.1 320.2,59.9 321.4,58.4 322.7,57.1 324.4,56.0 325.8,54.4 327.3,53.2 329.1,51.6 330.8,50.5 331.5,48.7 332.8,47.1 334.6,45.7 336.2,44.5 337.5,43.8 339.0,42.1 340.8,40.7 342.2,39.3 343.6,38.3 345.6,37.5 347.5,37.1 349.0,35.8 349.8,34.2 351.3,32.2 352.0,31.0 354.5,30.4 355.9,29.8 357.8,29.0 359.8,28.3 361.8,27.3 363.7,26.4 365.3,25.6 367.0,25.1 369.2,24.1 370.7,23.4 372.8,22.9 374.8,22.7 377.0,22.6 378.7,22.4 380.7,22.7 382.7,22.9 384.6,22.8 386.6,22.3 388.3,21.9 390.7,21.1 392.4,20.4 394.3,19.9 396.4,19.7 398.4,19.4 400.0,19.4 402.2,19.6 404.3,19.3 406.4,18.8 408.0,18.6 410.4,18.5 412.3,18.4 414.0,18.2 416.2,18.0"/>
<polyline fill="none" stroke="#3ec8b8" stroke-width="1.0" stroke-linejoin="round" points="49.0,384.3 49.0,382.8 49.5,382.8 50.0,382.8 50.0,381.3 50.0,378.9 50.8,378.9 50.8,377.1 51.4,377.1 52.1,377.1 52.1,375.3 52.6,375.3 52.6,374.1 53.1,374.1 53.1,372.9 53.7,372.9 53.7,371.4 54.2,371.4 54.2,370.2 55.0,370.2 55.0,368.3 55.6,368.3 55.6,366.9 55.6,365.3 56.2,365.3 56.6,365.3 56.6,364.3 56.6,362.2 57.5,362.2 57.5,360.0 58.4,360.0 58.4,358.3 59.4,358.3 60.3,358.3 60.3,356.5 60.9,356.5 60.9,355.5 60.9,354.5 61.4,354.5 61.4,352.5 62.6,352.5 62.6,351.2 63.3,351.2 63.3,349.8 64.0,349.8 64.0,348.4 64.8,348.4 66.0,348.4 66.0,346.2 66.0,344.1 67.2,344.1 68.1,344.1 68.1,342.5 68.1,341.2 68.8,341.2 68.8,340.4 69.2,340.4 69.2,338.8 70.1,338.8 70.1,336.8 71.2,336.8 71.2,334.7 72.4,334.7 72.4,333.6 73.0,333.6 73.0,332.0 73.9,332.0 74.6,332.0 74.6,330.8 74.6,329.3 75.4,329.3 75.4,327.1 76.5,327.1 77.0,327.1 77.0,326.1 77.0,323.8 78.1,323.8 78.5,323.8 78.5,323.0 78.5,322.1 78.9,322.1 79.5,322.1 79.5,320.8 80.5,320.8 80.5,318.8 80.5,316.9 81.4,316.9 81.4,314.8 82.4,314.8 83.4,314.8 83.4,312.7 83.4,311.4 84.3,311.4 85.2,311.4 85.2,310.1 85.2,308.7 86.1,308.7 87.1,308.7 87.1,307.3 88.3,307.3 88.3,305.4 89.0,305.4 89.0,304.4 89.7,304.4 89.7,303.4 91.0,303.4 91.0,301.5 91.7,301.5 91.7,300.5 92.8,300.5 92.8,298.7 93.6,298.7 93.6,297.6 93.6,295.8 94.7,295.8 94.7,293.8 96.0,293.8 97.2,293.8 97.2,292.1 98.4,292.1 98.4,290.2 98.4,288.6 99.4,288.6 100.8,288.6 100.8,286.4 100.8,284.7 102.0,284.7 102.0,282.7 103.2,282.7 104.3,282.7 104.3,280.9 105.0,280.9 105.0,279.9 105.0,278.6 105.8,278.6 105.8,277.1 106.7,277.1 107.8,277.1 107.8,275.3 108.7,275.3 108.7,273.9 110.0,273.9 110.0,271.9 110.0,270.6 110.8,270.6 111.7,270.6 111.7,269.1 111.7,268.3 112.2,268.3 112.2,266.3 113.4,266.3 114.5,266.3 114.5,264.1 114.5,263.0 115.0,263.0 116.1,263.0 116.1,260.8 116.9,260.8 116.9,259.1 117.4,259.1 117.4,257.9 117.4,256.4 118.1,256.4 118.1,254.3 119.1,254.3 119.1,253.1 119.7,253.1 119.7,251.0 120.7,251.0 120.7,249.4 121.5,249.4 122.4,249.4 122.4,247.3 122.4,246.4 123.1,246.4 124.4,246.4 124.4,244.4 125.2,244.4 125.2,243.1 125.7,243.1 125.7,242.4 126.6,242.4 126.6,241.1 127.4,241.1 127.4,239.9 127.4,239.0 128.0,239.0 128.0,237.8 128.8,237.8 130.0,237.8 130.0,236.0 131.1,236.0 131.1,234.4 131.1,233.1 132.3,233.1 133.3,233.1 133.3,232.3 134.2,232.3 134.2,231.4 135.9,231.4 135.9,229.8 136.5,229.8 136.5,229.2 137.3,229.2 137.3,228.4 138.6,228.4 138.6,226.9 138.6,225.1 140.3,225.1 141.0,225.1 141.0,224.4 141.7,224.4 141.7,223.7 143.3,223.7 143.3,222.1 144.5,222.1 144.5,220.9 146.0,220.9 146.0,219.3 147.2,219.3 147.2,217.7 148.1,217.7 148.1,216.3 148.1,214.3 149.6,214.3 150.5,214.3 150.5,213.0 151.6,213.0 151.6,211.5 152.5,211.5 152.5,210.2 152.5,209.2 153.2,209.2 154.3,209.2 154.3,207.6 155.2,207.6 155.2,206.4 155.7,206.4 155.7,205.7 155.7,204.4 156.6,204.4 157.5,204.4 157.5,203.1 157.5,202.2 158.2,202.2 158.2,200.8 159.1,200.8 159.1,200.6 160.0,200.6 161.5,200.6 161.5,200.2 162.7,200.2 162.7,199.9 163.6,199.9 163.6,199.6 164.6,199.6 164.6,199.3 166.2,199.3 166.2,198.9 166.2,197.4 167.8,197.4 167.8,195.9 169.4,195.9 170.1,195.9 170.1,195.2 170.1,194.0 171.4,194.0 171.4,193.3 172.1,193.3 172.9,193.3 172.9,192.5 172.9,190.8 174.4,190.8 174.4,189.9 175.2,189.9 176.2,189.9 176.2,188.8 177.8,188.8 177.8,187.1 177.8,186.4 178.4,186.4 178.4,185.3 179.8,185.3 179.8,184.6 180.7,184.6 180.7,183.7 182.1,183.7 182.1,183.0 183.1,183.0 183.1,182.0 184.5,182.0 184.5,180.9 186.1,180.9 186.1,180.0 187.3,180.0 188.3,180.0 188.3,178.8 190.0,178.8 190.0,176.8 191.4,176.8 191.4,175.2 191.4,173.3 192.9,173.3 194.0,173.3 194.0,172.0 194.0,171.2 194.6,171.2 194.6,170.1 195.6,170.1 196.3,170.1 196.3,169.2 197.2,169.2 197.2,168.7 199.2,168.7 199.2,167.4 199.2,166.6 200.5,166.6 201.6,166.6 201.6,165.9 202.9,165.9 202.9,165.1 202.9,164.4 203.6,164.4 204.4,164.4 204.4,163.6 204.4,162.1 205.6,162.1 206.9,162.1 206.9,160.7 207.5,160.7 207.5,159.9 207.5,159.2 208.1,159.2 208.1,157.6 209.5,157.6 210.6,157.6 210.6,156.4 210.6,155.4 211.8,155.4 212.5,155.4 212.5,154.7 214.1,154.7 214.1,153.2 214.1,152.0 215.3,152.0 215.3,151.1 216.3,151.1 216.3,150.4 216.7,150.4 217.3,150.4 217.3,148.9 217.3,146.8 218.2,146.8 218.2,144.5 219.2,144.5 219.7,144.5 219.7,143.2 219.7,141.9 220.3,141.9 220.3,141.1 220.8,141.1 220.8,139.9 221.9,139.9 221.9,139.1 222.6,139.1 223.8,139.1 223.8,137.7 223.8,136.5 224.9,136.5 224.9,135.6 225.7,135.6 225.7,134.6 226.6,134.6 226.6,133.7 227.4,133.7 228.6,133.7 228.6,132.4 228.6,131.7 229.2,131.7 229.9,131.7 229.9,130.9 229.9,130.2 230.6,130.2 232.2,130.2 232.2,128.4 234.0,128.4 234.0,126.8 234.0,125.8 235.6,125.8 235.6,125.1 236.6,125.1 238.1,125.1 238.1,124.1 238.1,123.3 239.3,123.3 239.3,122.6 240.4,122.6 240.4,121.7 241.8,121.7 243.8,121.7 243.8,120.3 243.8,119.4 245.2,119.4 245.2,118.4 247.5,118.4 249.2,118.4 249.2,117.7 249.2,117.3 250.0,117.3 250.0,116.3 252.3,116.3 252.3,115.5 253.9,115.5 253.9,114.6 256.0,114.6 256.0,113.6 258.3,113.6 258.3,113.0 259.3,113.0 260.9,113.0 260.9,111.7 262.3,111.7 262.3,110.6 262.3,110.0 263.0,110.0 263.0,108.7 264.5,108.7 266.1,108.7 266.1,107.4 267.1,107.4 267.1,106.5 268.3,106.5 268.3,105.6 269.7,105.6 269.7,104.5 269.7,103.8 270.4,103.8 270.4,102.1 272.1,102.1 272.1,101.4 272.8,101.4 272.8,100.4 273.8,100.4 273.8,99.0 275.1,99.0 276.5,99.0 276.5,97.7 278.1,97.7 278.1,96.0 279.1,96.0 279.1,95.3 280.8,95.3 280.8,94.3 281.8,94.3 281.8,93.8 281.8,92.7 283.6,92.7 285.1,92.7 285.1,91.8 285.1,90.6 287.2,90.6 287.2,88.7 288.6,88.7 288.6,88.0 289.1,88.0 289.1,87.0 289.8,87.0 290.9,87.0 290.9,85.4 290.9,84.2 291.7,84.2 291.7,83.5 292.3,83.5 292.3,82.5 294.3,82.5 296.7,82.5 296.7,81.7 296.7,81.3 297.8,81.3 297.8,80.9 298.9,80.9 301.0,80.9 301.0,80.2 301.0,79.7 302.4,79.7 304.8,79.7 304.8,78.7 306.1,78.7 306.1,78.1 307.8,78.1 307.8,77.3 307.8,76.4 309.7,76.4 309.7,75.4 311.0,75.4 311.0,73.9 312.8,73.9 313.9,73.9 313.9,72.9 313.9,71.8 315.1,71.8 316.9,71.8 316.9,70.2 316.9,69.3 318.0,69.3 318.0,67.6 319.9,67.6 319.9,66.1 321.6,66.1 322.3,66.1 322.3,65.5 322.3,64.3 324.4,64.3 324.4,63.7 325.4,63.7 325.4,63.2 326.2,63.2 326.2,62.1 328.0,62.1 329.5,62.1 329.5,61.2 331.7,61.2 331.7,59.9 333.5,59.9 333.5,59.1 335.0,59.1 335.0,58.7 335.0,58.3 336.6,58.3 338.4,58.3 338.4,57.8 340.0,57.8 340.0,57.3 341.7,57.3 341.7,56.9 344.0,56.9 344.0,56.0 344.0,55.2 345.7,55.2 347.3,55.2 347.3,54.4 349.5,54.4 349.5,53.4 349.5,52.6 351.1,52.6 352.6,52.6 352.6,51.9 352.6,51.5 353.4,51.5 353.4,50.2 355.5,50.2 355.5,49.6 356.5,49.6 356.5,48.8 357.8,48.8 357.8,48.3 358.6,48.3 358.6,47.3 360.1,47.3 361.1,47.3 361.1,46.7 362.6,46.7 362.6,45.7 362.6,44.0 364.3,44.0 364.3,43.2 365.0,43.2 365.0,42.1 366.1,42.1 366.1,40.3 367.7,40.3 368.4,40.3 368.4,39.6 368.4,38.6 369.2,38.6 369.2,37.6 370.1,37.6 370.1,36.3 372.0,36.3 373.6,36.3 373.6,35.5 375.7,35.5 375.7,34.5 377.9,34.5 377.9,33.4 379.8,33.4 379.8,32.4 380.9,32.4 380.9,31.8 380.9,30.8 383.0,30.8 383.0,30.3 384.0,30.3 384.0,29.4 385.6,29.4 387.8,29.4 387.8,28.5 390.1,28.5 390.1,27.6 390.1,26.9 392.1,26.9 392.9,26.9 392.9,26.6 394.6,26.6 394.6,26.0 394.6,25.1 396.9,25.1 399.1,25.1 399.1,24.3 400.0,24.3 400.0,24.0 401.1,24.0 401.1,23.6 402.4,23.6 402.4,23.1 404.0,23.1 404.0,22.5 404.0,21.7 406.1,21.7 408.1,21.7 408.1,21.0 410.1,21.0 410.1,20.3 410.1,19.6 411.8,19.6 414.1,19.6 414.1,18.8 414.1,18.2 415.8,18.2 415.8,18.0 416.2,18.0"/>
<polyline fill="none" stroke="#6cb86c" stroke-width="1.15" stroke-linejoin="round" points="49.0,384.3 49.5,382.7 50.2,380.6 51.2,378.6 51.6,376.7 52.3,374.8 52.9,373.0 53.9,371.3 54.6,369.2 55.8,367.5 56.2,365.6 57.0,363.7 57.6,361.8 58.4,360.1 59.3,358.7 60.3,356.9 61.5,355.0 62.6,352.9 63.6,351.4 64.3,349.5 65.3,347.6 66.5,346.1 67.3,344.4 68.1,342.5 69.0,341.1 70.1,339.2 71.2,337.5 72.2,335.8 73.0,333.7 74.0,332.1 75.0,330.6 76.1,328.7 76.7,326.9 77.7,325.2 78.6,323.2 79.5,321.3 80.2,319.7 81.2,318.0 82.1,315.8 83.1,314.5 83.6,312.3 85.0,310.8 85.7,309.2 87.0,307.4 88.2,305.5 89.0,304.0 90.3,302.3 91.4,300.6 92.5,298.8 93.8,297.7 95.0,295.9 96.3,294.3 97.2,292.5 98.7,291.1 99.8,289.3 100.7,287.7 101.8,285.8 103.0,284.3 103.8,282.4 105.0,280.6 106.1,279.1 106.7,277.3 108.0,275.5 108.8,273.9 110.2,272.5 111.2,270.9 112.8,269.4 113.8,267.5 115.1,266.1 115.7,264.1 116.5,262.6 117.8,260.8 119.3,259.0 120.3,257.4 121.1,256.0 122.4,254.0 123.4,252.3 124.2,250.6 125.4,248.7 126.1,247.3 127.0,245.4 128.2,243.5 129.1,241.9 130.2,240.3 131.3,238.6 132.5,236.8 133.8,235.4 135.0,233.7 136.0,232.1 137.0,230.6 138.4,228.8 139.6,227.6 140.7,225.9 141.8,224.1 143.7,222.6 144.7,220.9 145.5,219.5 147.1,218.0 148.4,216.1 149.3,214.2 150.3,212.9 151.7,211.5 152.9,209.6 153.8,207.9 154.9,206.3 156.2,204.6 156.9,202.8 158.8,201.5 159.3,199.6 160.4,197.9 161.3,195.8 162.0,194.4 163.2,192.6 164.3,190.8 165.0,189.0 166.1,187.2 167.2,185.3 167.9,183.8 169.0,181.8 169.5,180.1 171.2,178.9 172.1,177.4 174.1,176.2 175.6,174.8 177.0,173.2 178.7,171.7 180.0,170.6 181.6,169.3 183.1,168.2 184.4,166.8 185.7,165.0 186.8,163.5 187.9,161.8 188.6,160.1 190.1,158.4 191.2,156.9 192.3,155.3 193.8,153.6 194.9,151.8 195.7,150.3 197.1,148.9 198.6,147.7 199.9,146.2 201.3,144.5 202.9,143.2 203.8,141.7 205.7,140.0 206.9,138.8 208.5,137.6 209.6,135.8 211.6,134.9 213.2,133.5 214.7,131.9 216.2,131.0 217.5,129.7 219.5,128.9 220.8,127.4 222.7,126.1 224.1,125.1 225.9,123.8 226.8,122.5 228.9,121.2 230.2,119.9 231.9,118.8 233.5,117.5 235.2,116.3 236.5,114.8 238.0,113.7 239.9,112.5 241.1,111.3 242.9,109.9 244.5,108.7 246.1,108.0 247.9,106.7 249.5,105.6 250.9,104.3 252.6,103.3 254.5,102.4 256.0,100.8 257.6,99.7 259.2,98.5 260.9,97.2 262.4,96.3 264.0,95.0 265.4,93.8 267.1,92.4 268.7,91.2 270.1,89.8 271.6,88.4 272.6,86.7 273.6,85.1 274.8,83.4 275.9,82.0 277.3,80.3 278.5,78.2 279.5,77.1 281.0,75.3 282.6,74.5 284.1,73.1 285.7,71.6 287.5,70.8 289.1,69.7 290.7,68.9 292.2,67.4 293.7,66.2 295.3,65.3 297.3,63.9 299.1,62.8 300.6,61.8 302.2,60.8 304.0,59.8 305.6,58.6 307.7,57.8 309.2,56.8 310.8,55.8 312.4,54.8 314.4,53.6 316.3,52.7 318.2,51.9 319.5,50.8 321.8,50.0 323.4,49.1 325.4,48.5 327.1,47.4 328.7,46.8 330.4,45.4 332.6,45.0 334.0,44.1 336.1,43.3 338.1,42.7 339.6,41.7 341.7,41.1 343.3,40.4 345.1,39.6 346.8,38.7 349.3,38.1 350.7,36.7 352.7,36.6 354.5,35.7 356.1,34.8 358.0,33.9 360.0,33.6 362.0,32.5 363.8,31.8 365.6,31.2 367.3,30.5 369.3,29.9 371.1,29.1 373.0,28.4 374.7,27.5 376.7,26.7 378.8,26.5 380.7,25.9 382.6,25.5 384.8,25.3 386.8,24.9 388.9,24.3 390.6,23.9 392.4,23.5 394.5,23.1 396.4,22.7 398.1,22.2 400.3,21.6 402.2,21.3 404.3,20.7 406.2,20.4 408.2,20.0 410.2,19.4 411.8,19.2 413.8,18.7 415.9,18.3 416.2,18.0"/>
<polyline fill="none" stroke="#e6d84a" stroke-width="1.15" stroke-linejoin="round" points="49.0,384.3 49.6,382.4 49.9,380.6 50.8,378.5 51.4,376.9 52.2,375.0 52.9,373.0 53.8,371.1 54.7,369.2 55.5,367.3 55.9,365.6 56.7,363.7 57.5,362.1 58.2,360.2 59.4,358.3 60.1,356.8 60.7,354.7 62.1,353.1 63.1,351.4 64.1,349.7 64.9,347.8 66.2,345.9 66.9,344.0 67.9,342.4 68.9,340.6 69.8,338.8 70.8,337.3 72.1,335.6 72.8,334.1 73.9,331.9 74.8,330.3 75.8,328.6 76.3,326.6 77.7,325.0 78.1,323.0 79.0,321.1 79.4,319.6 80.6,317.5 81.5,315.8 82.4,314.3 83.2,312.3 84.3,310.7 85.3,308.4 86.6,307.3 87.5,305.1 88.6,303.7 89.3,301.8 90.7,300.1 91.7,298.6 93.0,297.0 94.0,295.4 95.4,293.7 96.1,292.2 97.3,290.1 98.4,288.9 99.7,287.2 101.0,285.8 101.8,283.8 102.8,282.3 103.9,280.2 104.6,278.3 105.5,277.0 106.9,275.2 107.5,273.3 108.7,271.8 109.4,269.7 110.4,268.1 111.8,266.4 112.6,264.8 113.7,263.2 114.6,261.4 115.8,259.8 117.0,257.9 118.0,256.3 119.4,254.7 120.3,252.8 121.0,251.0 122.3,249.7 123.5,248.2 124.5,246.3 125.9,244.6 126.7,243.0 128.4,241.2 129.6,240.0 130.6,238.3 131.7,236.6 132.9,235.1 133.8,233.2 134.6,231.4 135.4,229.5 136.6,227.6 137.6,226.1 138.5,224.4 139.4,223.0 140.2,220.8 141.3,219.3 142.9,217.9 143.9,216.2 145.1,214.4 146.5,212.6 147.6,211.2 148.9,209.8 149.8,208.1 151.0,206.1 152.1,204.7 153.2,203.0 154.8,201.5 155.9,200.0 156.8,198.6 158.0,196.5 158.9,194.8 160.2,193.2 161.3,191.6 162.2,189.7 163.4,188.1 164.4,186.5 165.6,185.0 166.7,183.3 167.6,181.5 169.2,179.9 170.4,178.4 171.8,177.2 173.5,176.0 174.9,174.6 176.2,173.4 178.0,172.1 179.9,171.0 181.4,169.6 182.9,168.4 184.3,166.9 185.9,165.4 187.1,164.2 188.6,162.8 189.8,161.3 191.6,160.1 192.8,158.6 194.3,157.5 195.7,156.2 197.6,154.6 199.2,153.2 200.3,152.1 201.7,150.6 202.9,149.0 204.4,147.4 205.8,146.2 207.0,144.7 208.5,143.0 209.8,141.6 211.0,140.3 212.4,138.4 214.1,137.5 215.8,136.0 217.1,134.5 218.2,133.2 219.8,131.9 221.4,130.7 222.5,129.1 224.4,128.0 225.4,126.3 227.4,124.9 228.7,123.4 230.0,122.2 231.6,121.2 233.1,119.8 234.7,118.6 236.1,116.7 237.2,115.8 239.1,114.5 240.4,112.9 241.7,111.5 243.4,110.2 244.7,109.2 246.5,107.8 248.0,106.5 249.4,105.3 251.0,103.8 252.9,102.7 254.3,101.1 256.1,100.0 257.1,98.8 258.7,97.5 260.4,96.5 261.8,94.9 263.3,93.6 264.5,92.5 266.0,90.7 268.0,89.4 269.0,88.1 271.0,86.8 271.9,85.4 273.6,83.9 275.1,82.3 276.6,81.3 278.0,79.9 279.6,78.7 281.1,77.1 282.4,76.1 283.9,74.2 285.1,72.9 286.5,71.6 288.2,70.4 289.3,68.9 290.7,67.1 292.0,66.0 294.2,64.9 295.6,63.8 296.7,62.3 298.6,61.3 300.3,59.6 301.5,58.7 303.4,57.2 304.7,56.2 306.3,55.0 308.3,54.2 310.6,53.5 311.9,52.8 313.6,52.4 316.0,51.6 317.8,50.8 319.4,50.1 321.5,49.6 323.4,49.0 325.4,47.8 327.0,47.5 329.0,46.8 331.1,46.0 332.8,45.7 334.7,44.7 336.6,44.1 338.3,43.6 340.4,42.5 342.4,42.0 344.2,41.6 346.0,40.7 347.6,40.2 349.9,39.6 351.7,39.4 353.6,39.2 355.7,37.8 357.6,37.4 359.7,36.6 361.5,36.1 363.3,35.9 365.2,35.3 367.1,34.7 368.9,33.9 370.9,33.1 372.7,32.7 375.0,32.2 376.5,31.4 378.6,30.8 380.5,30.2 382.2,30.0 384.0,29.5 386.1,28.3 388.2,28.0 390.2,27.2 391.7,26.5 393.7,26.0 395.8,25.3 397.6,24.1 399.3,24.0 401.2,23.1 403.0,22.4 404.9,21.5 407.0,21.2 408.7,20.2 410.7,19.7 412.8,19.2 414.2,18.5 416.2,18.0"/>
<polyline fill="none" stroke="#d8325a" stroke-width="1.0" stroke-linejoin="round" points="49.0,384.3 49.0,382.3 49.8,382.3 49.8,380.6 50.5,380.6 50.5,379.5 50.9,379.5 50.9,377.3 51.8,377.3 51.8,375.2 52.7,375.2 52.7,374.1 53.1,374.1 53.9,374.1 53.9,372.0 54.3,372.0 54.3,371.0 54.3,368.5 55.4,368.5 55.9,368.5 55.9,367.1 55.9,366.2 56.3,366.2 57.2,366.2 57.2,363.9 58.1,363.9 58.1,361.6 58.9,361.6 58.9,359.6 59.8,359.6 59.8,357.5 60.8,357.5 60.8,355.1 60.8,353.9 61.3,353.9 61.3,352.0 62.2,352.0 62.2,350.0 63.1,350.0 64.2,350.0 64.2,347.5 64.2,345.8 65.0,345.8 66.2,345.8 66.2,343.1 66.7,343.1 66.7,342.0 67.5,342.0 67.5,340.3 67.5,339.3 67.9,339.3 67.9,337.9 69.2,337.9 69.2,336.9 70.3,336.9 71.3,336.9 71.3,336.1 72.8,336.1 72.8,334.7 73.9,334.7 73.9,333.8 75.9,333.8 75.9,331.9 75.9,330.1 78.0,330.1 78.0,328.8 79.4,328.8 80.4,328.8 80.4,327.9 81.3,327.9 81.3,327.1 81.3,325.3 82.2,325.3 83.0,325.3 83.0,323.6 83.0,322.5 83.5,322.5 83.5,321.5 84.0,321.5 84.0,320.1 84.7,320.1 84.7,318.9 85.5,318.9 87.0,318.9 87.0,316.8 88.1,316.8 88.1,315.2 89.3,315.2 89.3,313.5 90.2,313.5 90.2,312.3 90.2,310.7 91.4,310.7 92.5,310.7 92.5,309.3 93.5,309.3 93.5,308.0 95.0,308.0 95.0,306.2 95.8,306.2 95.8,304.9 97.4,304.9 97.4,302.6 97.4,300.9 98.5,300.9 99.2,300.9 99.2,299.9 99.2,298.0 100.4,298.0 100.4,296.6 101.3,296.6 101.3,294.5 102.7,294.5 102.7,293.5 103.4,293.5 103.4,291.5 104.8,291.5 104.8,290.1 105.7,290.1 105.7,288.8 106.5,288.8 107.4,288.8 107.4,287.4 107.4,285.0 108.8,285.0 110.1,285.0 110.1,282.9 110.1,280.9 111.2,280.9 111.2,280.0 111.8,280.0 113.0,280.0 113.0,278.0 113.0,275.4 114.6,275.4 116.0,275.4 116.0,272.9 116.7,272.9 116.7,271.5 117.9,271.5 117.9,268.9 117.9,267.1 118.7,267.1 120.0,267.1 120.0,264.4 121.3,264.4 121.3,262.7 123.2,262.7 123.2,260.9 124.3,260.9 124.3,259.7 125.8,259.7 125.8,258.2 125.8,256.8 127.3,256.8 127.3,255.7 128.6,255.7 128.6,254.2 130.4,254.2 132.8,254.2 132.8,252.3 134.1,252.3 134.1,250.3 134.1,249.1 134.6,249.1 134.6,247.8 135.2,247.8 135.6,247.8 135.6,246.9 135.6,245.2 136.4,245.2 137.5,245.2 137.5,242.7 138.3,242.7 138.3,241.4 139.5,241.4 139.5,240.2 141.5,240.2 141.5,238.2 142.8,238.2 142.8,237.0 144.4,237.0 144.4,236.0 144.4,234.3 146.9,234.3 149.1,234.3 149.1,232.4 150.4,232.4 150.4,229.7 150.4,226.9 151.6,226.9 152.4,226.9 152.4,225.2 153.1,225.2 153.1,223.6 153.1,222.1 153.8,222.1 153.8,220.0 154.9,220.0 155.9,220.0 155.9,218.3 157.3,218.3 157.3,215.6 157.8,215.6 157.8,214.7 157.8,213.2 158.6,213.2 159.8,213.2 159.8,211.0 160.7,211.0 160.7,209.6 161.3,209.6 161.3,208.6 161.3,207.4 162.0,207.4 162.0,205.6 163.1,205.6 163.1,203.1 164.5,203.1 164.5,201.7 165.4,201.7 166.7,201.7 166.7,199.5 166.7,198.2 167.5,198.2 167.5,195.8 168.9,195.8 170.0,195.8 170.0,194.0 170.0,191.8 171.3,191.8 171.3,190.8 172.0,190.8 173.1,190.8 173.1,189.3 174.2,189.3 174.2,187.9 175.0,187.9 175.0,186.8 176.7,186.8 176.7,184.4 178.1,184.4 178.1,182.6 178.1,180.4 179.7,180.4 179.7,178.0 181.5,178.0 181.5,176.6 182.9,176.6 182.9,175.4 184.5,175.4 186.0,175.4 186.0,174.2 188.2,174.2 188.2,172.6 189.2,172.6 189.2,171.9 191.1,171.9 191.1,170.4 191.1,169.8 191.9,169.8 191.9,168.5 193.0,168.5 193.0,167.1 193.8,167.1 193.8,165.3 194.8,165.3 196.2,165.3 196.2,162.7 196.8,162.7 196.8,161.0 196.8,159.2 197.5,159.2 198.2,159.2 198.2,157.2 199.0,157.2 199.0,155.0 200.3,155.0 200.3,152.9 201.6,152.9 201.6,151.8 201.6,150.7 202.9,150.7 202.9,149.5 204.3,149.5 204.3,148.1 205.5,148.1 205.5,146.6 206.8,146.6 206.8,145.0 208.3,145.0 210.3,145.0 210.3,142.8 210.3,141.9 211.1,141.9 211.1,141.1 211.9,141.1 213.1,141.1 213.1,139.8 214.8,139.8 214.8,138.0 214.8,136.7 216.0,136.7 216.0,135.7 217.0,135.7 217.0,134.7 217.9,134.7 217.9,132.5 219.9,132.5 222.0,132.5 222.0,130.5 223.1,130.5 223.1,129.5 224.4,129.5 224.4,128.3 226.4,128.3 226.4,126.4 226.4,125.4 227.5,125.4 229.5,125.4 229.5,123.5 229.5,122.1 231.1,122.1 231.1,120.9 232.4,120.9 233.9,120.9 233.9,119.7 234.9,119.7 234.9,118.8 234.9,117.9 236.0,117.9 236.0,116.5 237.6,116.5 237.6,115.8 238.4,115.8 239.5,115.8 239.5,114.8 241.8,114.8 241.8,112.8 241.8,110.9 244.1,110.9 245.4,110.9 245.4,109.7 245.4,108.0 247.4,108.0 247.4,106.7 248.9,106.7 248.9,105.8 249.9,105.8 251.4,105.8 251.4,105.0 251.4,104.1 253.2,104.1 254.8,104.1 254.8,103.2 254.8,102.4 256.5,102.4 256.5,101.9 257.6,101.9 257.6,100.7 259.8,100.7 261.1,100.7 261.1,100.1 261.1,98.9 263.5,98.9 263.5,97.6 265.9,97.6 265.9,96.3 268.4,96.3 268.4,94.9 270.5,94.9 272.6,94.9 272.6,92.8 272.6,91.1 274.4,91.1 275.3,91.1 275.3,90.2 275.3,89.2 276.4,89.2 276.4,88.3 277.3,88.3 277.3,86.2 279.5,86.2 279.5,85.3 280.5,85.3 281.8,85.3 281.8,84.3 281.8,83.3 283.3,83.3 283.3,82.5 284.4,82.5 285.8,82.5 285.8,81.5 285.8,79.8 288.2,79.8 290.5,79.8 290.5,78.2 290.5,77.1 291.9,77.1 292.9,77.1 292.9,76.4 295.4,76.4 295.4,74.6 296.8,74.6 296.8,73.6 296.8,71.9 299.1,71.9 299.1,70.4 301.2,70.4 303.4,70.4 303.4,68.9 304.4,68.9 304.4,68.3 306.3,68.3 306.3,67.2 306.3,66.0 308.4,66.0 310.1,66.0 310.1,64.9 310.1,64.4 311.1,64.4 311.1,62.9 313.6,62.9 315.5,62.9 315.5,61.8 315.5,60.8 317.3,60.8 319.0,60.8 319.0,59.8 320.3,59.8 320.3,59.0 321.3,59.0 321.3,58.5 323.8,58.5 323.8,57.0 323.8,55.9 325.7,55.9 325.7,54.4 328.3,54.4 329.8,54.4 329.8,53.5 330.8,53.5 330.8,52.9 331.8,52.9 331.8,52.3 333.4,52.3 333.4,51.3 334.5,51.3 334.5,50.7 334.5,50.0 335.6,50.0 335.6,48.6 338.0,48.6 338.0,47.9 339.1,47.9 340.8,47.9 340.8,46.9 342.4,46.9 342.4,45.9 342.4,44.8 344.4,44.8 345.3,44.8 345.3,44.4 346.9,44.4 346.9,43.6 348.5,43.6 348.5,42.8 348.5,42.1 350.0,42.1 350.9,42.1 350.9,41.6 350.9,40.8 352.3,40.8 352.3,39.8 353.8,39.8 354.6,39.8 354.6,39.1 354.6,38.3 355.7,38.3 355.7,37.6 356.7,37.6 357.9,37.6 357.9,36.7 357.9,35.4 359.6,35.4 359.6,34.2 361.3,34.2 361.3,33.5 362.3,33.5 362.3,32.4 364.6,32.4 366.0,32.4 366.0,31.9 366.0,31.2 367.8,31.2 367.8,30.8 369.0,30.8 369.0,29.9 371.3,29.9 373.9,29.9 373.9,29.0 376.3,29.0 376.3,28.1 376.3,27.4 378.2,27.4 380.8,27.4 380.8,26.1 383.5,26.1 383.5,24.7 383.5,23.7 385.3,23.7 387.3,23.7 387.3,22.9 387.3,22.2 389.9,22.2 389.9,21.7 392.1,21.7 392.1,21.2 394.1,21.2 397.1,21.2 397.1,20.4 398.3,20.4 398.3,20.1 399.7,20.1 399.7,19.8 399.7,19.4 401.0,19.4 402.6,19.4 402.6,19.0 402.6,18.7 405.1,18.7 405.1,18.6 406.8,18.6 409.7,18.6 409.7,18.4 412.4,18.4 412.4,18.2 412.4,18.1 414.2,18.1 414.2,18.0 416.2,18.0"/>
<g font-size="10.8" fill="#222" color="#222" class="t">
<text x="44" y="388.9" text-anchor="end">0.0</text>
<text x="49.3" y="399.2" text-anchor="middle">0.0</text>
<text x="44" y="315.6" text-anchor="end">0.2</text>
<text x="123.1" y="399.2" text-anchor="middle">0.2</text>
<text x="44" y="242.2" text-anchor="end">0.4</text>
<text x="196.5" y="399.2" text-anchor="middle">0.4</text>
<text x="44" y="169.0" text-anchor="end">0.6</text>
<text x="269.8" y="399.2" text-anchor="middle">0.6</text>
<text x="44" y="95.8" text-anchor="end">0.8</text>
<text x="343.2" y="399.2" text-anchor="middle">0.8</text>
<text x="44" y="22.7" text-anchor="end">1.0</text>
<text x="415.9" y="399.2" text-anchor="middle">1.0</text>
</g>
<text x="261" y="11.8" font-size="14.5" font-weight="bold" textLength="81" lengthAdjust="spacingAndGlyphs" fill="#111">ROC curve</text>
<text x="179.6" y="427.4" font-size="14.5" font-weight="bold" textLength="108" lengthAdjust="spacingAndGlyphs" fill="#111">1 – specificity</text>
<text transform="translate(12.3,198) rotate(-90)" font-size="14.5" font-weight="bold" text-anchor="middle" fill="#111">Sensitivity</text>
<text x="133.2" y="452.5" font-size="12" textLength="336.5" lengthAdjust="spacingAndGlyphs" fill="#222" color="#222" class="t">The diagonal section is generated by the binding values.</text>
<text x="519.2" y="35.9" font-size="15" font-weight="bold" textLength="150.5" lengthAdjust="spacingAndGlyphs" fill="#111">Source of the curve</text>
<g font-size="12.6" fill="#1a1a1a" color="#1a1a1a" class="t">
<line x1="504" y1="52.6" x2="528" y2="52.6" stroke="#7eaef0" stroke-width="1.6"/>
<text x="531" y="57.8">Age</text>
<line x1="504" y1="67.6" x2="528" y2="67.6" stroke="#d8325a" stroke-width="1.6"/>
<text x="531" y="72.8">BMI</text>
<line x1="504" y1="82.5" x2="528" y2="82.5" stroke="#6cb86c" stroke-width="1.6"/>
<text x="531" y="87.7">SBP</text>
<line x1="504" y1="97.5" x2="528" y2="97.5" stroke="#f79a7c" stroke-width="1.6"/>
<text x="531" y="102.7">DBP</text>
<line x1="504" y1="112.4" x2="528" y2="112.4" stroke="#e6d84a" stroke-width="1.6"/>
<text x="531" y="117.6" textLength="153.5" lengthAdjust="spacingAndGlyphs">Hepatic Steatosis severity</text>
<line x1="504" y1="127.4" x2="528" y2="127.4" stroke="#3ec8b8" stroke-width="1.6"/>
<text x="531" y="132.6">TG</text>
<line x1="504" y1="142.4" x2="528" y2="142.4" stroke="#ffc4de" stroke-width="1.6"/>
<text x="531" y="147.6">ALT</text>
<line x1="504" y1="157.3" x2="528" y2="157.3" stroke="#b064f0" stroke-width="1.6"/>
<text x="531" y="162.5">AST</text>
<line x1="504" y1="172.3" x2="528" y2="172.3" stroke="#88d070" stroke-width="1.6"/>
<text x="531" y="177.5">BUN</text>
<line x1="504" y1="187.2" x2="528" y2="187.2" stroke="#7586cc" stroke-width="1.6"/>
<text x="531" y="192.4">UA</text>
<line x1="504" y1="202.2" x2="528" y2="202.2" stroke="#fb96c0" stroke-width="1.6"/>
<text x="531" y="207.4">UCr</text>
<line x1="504" y1="217.2" x2="528" y2="217.2" stroke="#cac890" stroke-width="1.6"/>
<text x="531" y="222.4">HGB</text>
<line x1="504" y1="232.1" x2="528" y2="232.1" stroke="#e2a474" stroke-width="1.6"/>
<text x="531" y="237.3" textLength="100" lengthAdjust="spacingAndGlyphs">Line of reference</text>
</g>
</svg>
</body></html>
